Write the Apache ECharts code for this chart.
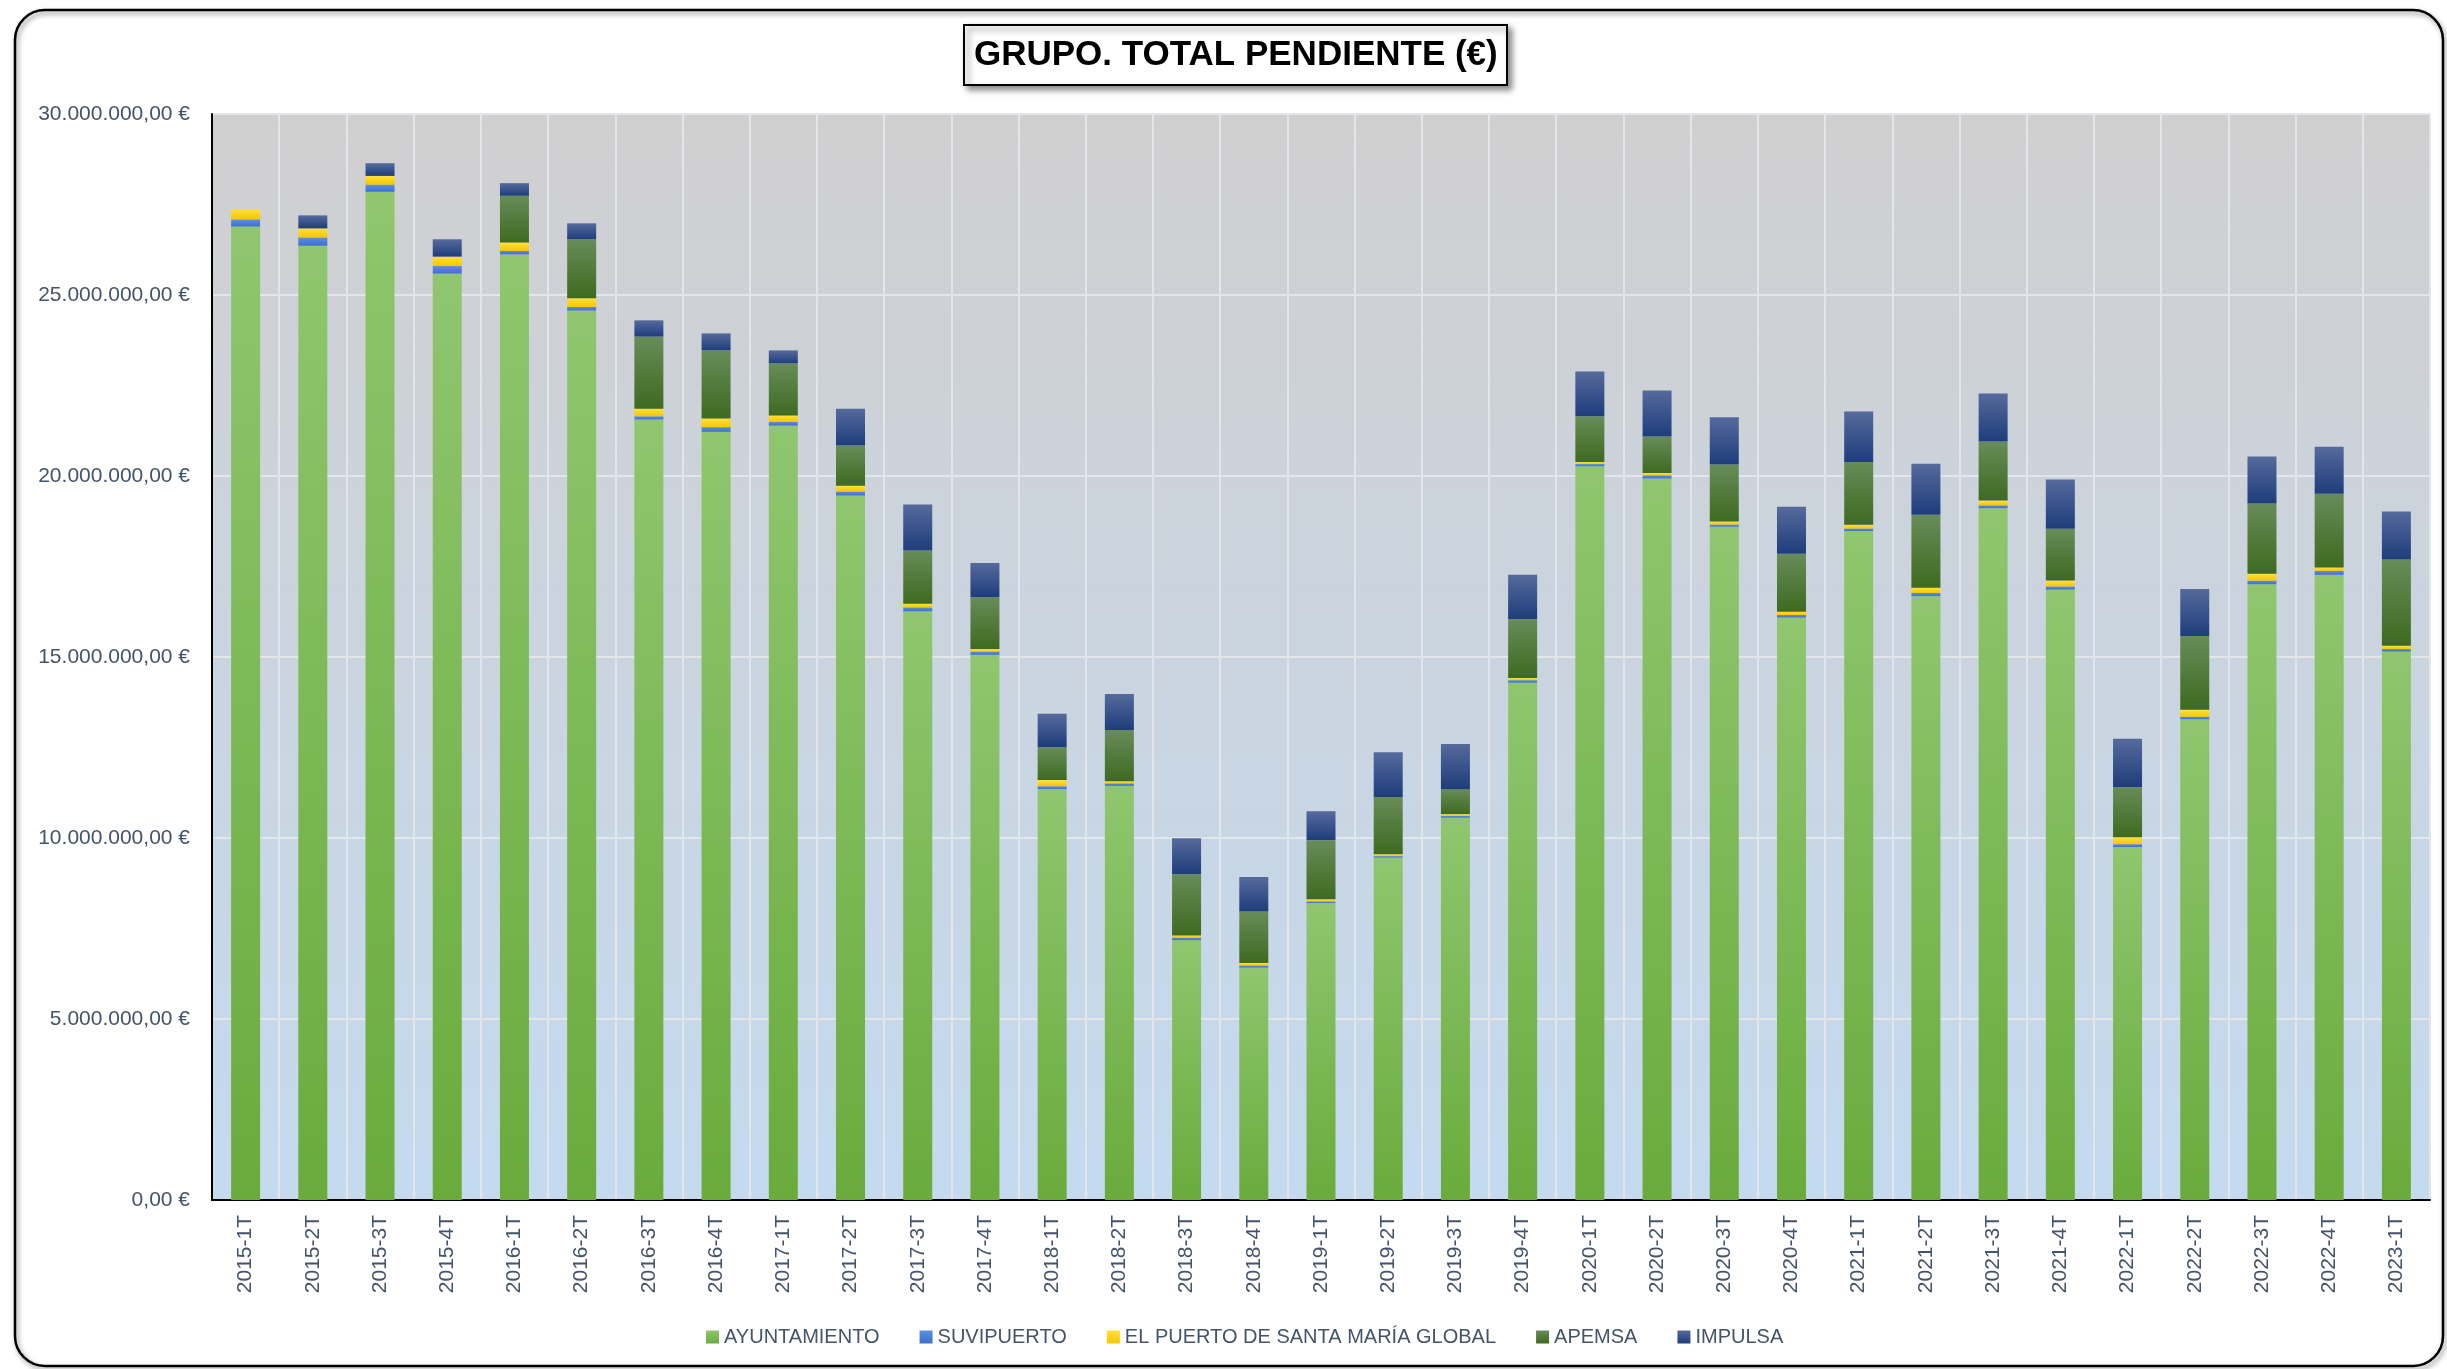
<!DOCTYPE html>
<html>
<head>
<meta charset="utf-8">
<script src="https://cdn.jsdelivr.net/npm/echarts@6.0.0/dist/echarts.min.js"></script>
<style>
html,body{margin:0;padding:0;background:#fff;}
#chart{width:2447px;height:1369px;}
</style>
</head>
<body>
<div id="chart"></div>
<script>
const categories = ['2015-1T','2015-2T','2015-3T','2015-4T','2016-1T','2016-2T','2016-3T','2016-4T','2017-1T','2017-2T','2017-3T','2017-4T','2018-1T','2018-2T','2018-3T','2018-4T','2019-1T','2019-2T','2019-3T','2019-4T','2020-1T','2020-2T','2020-3T','2020-4T','2021-1T','2021-2T','2021-3T','2021-4T','2022-1T','2022-2T','2022-3T','2022-4T','2023-1T'];

const ayuntamiento = [26890000,26360000,27850000,25590000,26120000,24570000,21560000,21220000,21390000,19460000,16260000,15060000,11350000,11440000,7180000,6420000,8200000,9460000,10560000,14290000,20270000,19930000,18600000,16090000,18480000,16680000,19110000,16860000,9750000,13280000,17010000,17270000,15150000];
const suvipuerto = [200000,230000,200000,210000,100000,100000,90000,130000,110000,110000,110000,90000,80000,70000,70000,60000,50000,40000,50000,70000,60000,90000,60000,70000,70000,90000,80000,90000,80000,70000,100000,110000,70000];
const elPuerto = [280000,250000,240000,260000,230000,240000,210000,240000,170000,160000,100000,70000,170000,60000,60000,70000,60000,50000,50000,60000,60000,60000,80000,90000,100000,140000,130000,160000,190000,190000,190000,90000,90000];
const apemsa = [0,0,0,0,1290000,1630000,1990000,1880000,1440000,1110000,1470000,1430000,910000,1410000,1690000,1420000,1630000,1580000,690000,1630000,1260000,1010000,1580000,1600000,1740000,2020000,1630000,1430000,1380000,2040000,1940000,2040000,2380000];
const impulsa = [0,360000,350000,480000,350000,440000,450000,470000,360000,1020000,1270000,950000,920000,1000000,990000,950000,800000,1240000,1250000,1220000,1240000,1270000,1300000,1300000,1390000,1410000,1330000,1360000,1340000,1300000,1300000,1300000,1330000];

const seriesNames = ['AYUNTAMIENTO','SUVIPUERTO','EL PUERTO DE SANTA MARÍA GLOBAL','APEMSA','IMPULSA'];
const yTicks = [0, 30000000, 5000000]; // min, max, interval

function grad(top, bottom){
  return new echarts.graphic.LinearGradient(0,0,0,1,[{offset:0,color:top},{offset:1,color:bottom}]);
}
function fmtEuro(v){
  const parts = v.toFixed(2).split('.');
  const intPart = parts[0].replace(/\B(?=(\d{3})+(?!\d))/g,'.');
  return intPart + ',' + parts[1] + ' €';
}

const chart = echarts.init(document.getElementById('chart'), null, {renderer:'canvas'});
const txt = '#44546a';
const font = 'Liberation Sans, Arial, sans-serif';

function barSeries(name, data, color){
  return {
    name: name, type: 'bar', stack: 'total', data: data,
    barWidth: 29,
    itemStyle: {color: color},
    emphasis: {disabled: true},
    animation: false
  };
}

chart.setOption({
  animation: false,
  backgroundColor: '#ffffff',
  title: {
    text: 'GRUPO. TOTAL PENDIENTE (€)',
    left: 964, top: 25,
    padding: [13, 10, 12, 10],
    backgroundColor: '#ffffff',
    borderColor: '#000000',
    borderWidth: 2,
    shadowBlur: 6, shadowOffsetX: 4, shadowOffsetY: 4, shadowColor: 'rgba(0,0,0,0.45)',
    textStyle: {fontFamily: font, fontWeight: 'bold', fontSize: 35, color: '#000'}
  },
  graphic: [{
    type: 'rect', silent: true, z: -10,
    shape: {x: 15, y: 10, width: 2428, height: 1356, r: 30},
    style: {fill: 'transparent', stroke: '#000', lineWidth: 2.5, shadowBlur: 5, shadowOffsetX: 2, shadowOffsetY: 3, shadowColor: 'rgba(0,0,0,0.45)'}
  }],
  legend: {
    data: seriesNames,
    left: 701, top: 1322,
    itemWidth: 13, itemHeight: 13, itemGap: 40,
    icon: 'rect',
    textStyle: {fontFamily: font, fontSize: 20, color: txt},
    selectedMode: false
  },
  grid: {
    left: 212, right: 17, top: 114, bottom: 169,
    show: true,
    borderWidth: 0,
    backgroundColor: grad('#d0cfd0', '#c4daef')
  },
  xAxis: {
    type: 'category',
    data: categories,
    axisLine: {show: true, lineStyle: {color: '#000', width: 2}},
    axisTick: {show: false},
    axisLabel: {rotate: 90, margin: 15, fontFamily: font, fontSize: 21, color: txt, interval: 0},
    splitLine: {show: true, interval: 0, lineStyle: {color: '#e2e6eb', width: 2}}
  },
  yAxis: {
    type: 'value',
    min: yTicks[0], max: yTicks[1], interval: yTicks[2],
    axisLine: {show: true, lineStyle: {color: '#000', width: 2}},
    axisTick: {show: false},
    axisLabel: {margin: 22, fontFamily: font, fontSize: 21, color: txt, formatter: fmtEuro},
    splitLine: {show: true, lineStyle: {color: '#e2e6eb', width: 2}}
  },
  series: [
    barSeries(seriesNames[0], ayuntamiento, grad('#8fc66f', '#6aab3c')),
    barSeries(seriesNames[1], suvipuerto, grad('#5b8fe0', '#3d70c8')),
    barSeries(seriesNames[2], elPuerto, grad('#ffe03a', '#f7c600')),
    barSeries(seriesNames[3], apemsa, grad('#688c59', '#3e6a20')),
    barSeries(seriesNames[4], impulsa, grad('#566a9c', '#1e3d7b'))
  ]
});
</script>
</body>
</html>
